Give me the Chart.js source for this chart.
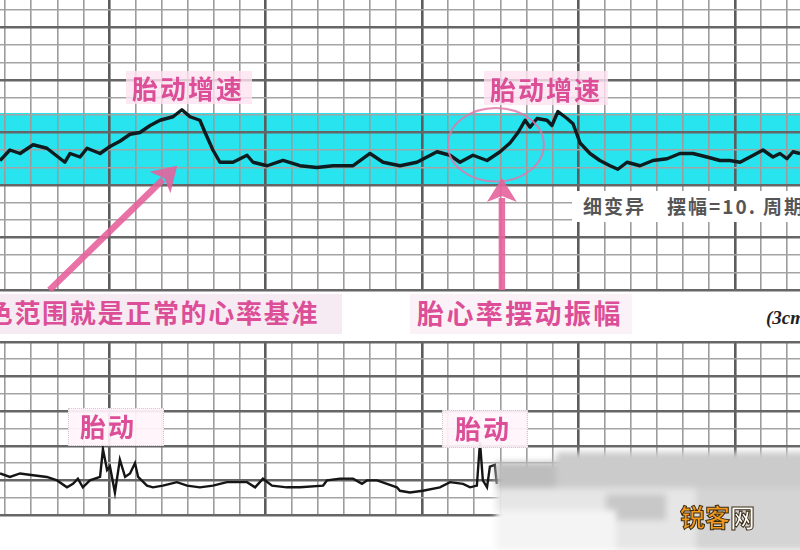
<!DOCTYPE html>
<html lang="zh">
<head>
<meta charset="utf-8">
<title>胎心监护图</title>
<script src="https://cdn.jsdelivr.net/npm/chart.js@4.4.1/dist/chart.umd.min.js"></script>
<style>
  html, body { margin: 0; padding: 0; background: #fff; }
  #stage {
    position: relative; width: 800px; height: 550px; overflow: hidden;
    background: #fff; font-family: "Noto Sans CJK SC", "Noto Sans", sans-serif;
  }
  canvas { position: absolute; left: 0; }
  #fhr { top: 0; }
  #toco { top: 340px; }
  .tag {
    position: absolute; color: #dc4f98; font-weight: 700;
    white-space: nowrap; line-height: 1;
  }
  .box { position: absolute; }
</style>
</head>
<body>
<div id="stage">
  <canvas id="fhr" width="800" height="293"></canvas>
  <canvas id="toco" width="800" height="178"></canvas>

  <!-- label backgrounds -->
  <div class="box" style="left:126px;top:71px;width:126px;height:33px;background:rgba(252,226,240,0.8)"></div>
  <div class="box" style="left:484px;top:71px;width:124px;height:34px;background:rgba(252,226,240,0.8)"></div>
  <div class="box" style="left:0;top:294px;width:342px;height:40px;background:#f7ebf3"></div>
  <div class="box" style="left:410px;top:294px;width:222px;height:40px;background:#fbf2f7"></div>
  <div class="box" style="left:68px;top:408px;width:94px;height:36px;background:rgba(255,244,250,0.92);border:1px dotted #ccc"></div>
  <div class="box" style="left:442px;top:410px;width:84px;height:36px;background:rgba(255,244,250,0.92);border:1px dotted #ccc"></div>
  <div class="box" style="left:572px;top:191px;width:228px;height:31px;background:#fff"></div>

  <!-- blurred watermark area -->
  <div class="box" style="left:496px;top:448px;width:320px;height:110px;filter:blur(3px)">
    <div class="box" style="left:0;top:14px;width:70px;height:30px;background:#bdbdbd"></div>
    <div class="box" style="left:60px;top:4px;width:260px;height:36px;background:#cbcbcb"></div>
    <div class="box" style="left:0;top:40px;width:320px;height:62px;background:#e6e6e6"></div>
    <div class="box" style="left:110px;top:46px;width:60px;height:26px;background:#c8c8c8"></div>
    <div class="box" style="left:200px;top:40px;width:110px;height:62px;background:#d4d4d4"></div>
    <div class="box" style="left:0;top:62px;width:120px;height:40px;background:#f4f4f4"></div>
  </div>

  <div class="tag" style="left:132px;top:75px;font-size:26px;letter-spacing:2px">胎动增速</div>
  <div class="tag" style="left:490px;top:76px;font-size:26px;letter-spacing:2px">胎动增速</div>
  <div class="tag" style="left:-41px;top:299px;font-size:26px;letter-spacing:1.7px">蓝色范围就是正常的心率基准</div>
  <div class="tag" style="left:417px;top:299px;font-size:27px;letter-spacing:2.4px">胎心率摆动振幅</div>
  <div class="tag" style="left:80px;top:413px;font-size:26px;letter-spacing:2px">胎动</div>
  <div class="tag" style="left:455px;top:415px;font-size:26px;letter-spacing:2px">胎动</div>

  <div class="tag" style="left:583px;top:196px;font-size:19px;letter-spacing:2px;color:#555">细变异　摆幅=10. 周期</div>
  <div class="tag" style="left:766px;top:308px;font-size:19px;color:#222;font-family:'Liberation Serif',serif;font-style:italic">(3cm/min)</div>

  <div class="tag" style="left:680px;top:504px;font-size:25px;letter-spacing:0;-webkit-text-stroke:1px #3a2a10">
    <span style="color:#f39a1e">锐客</span><span style="color:#fff">网</span>
  </div>
</div>

<script>
// fetal heart rate trace: time (s) and beats per minute
const FHR_SEC = [18, 21.8, 25.7, 30.7, 36, 40.3, 42.9, 44.9, 48.7, 51.4, 56.4, 60.2, 64, 67.9, 71.7, 75.6,
  79.4, 84.4, 87.8, 90.9, 94.7, 96.7, 99.7, 102.4, 107.4, 112.8, 115.1, 120.5, 126.6, 133.1, 139.6,
  145.8, 153.5, 160, 165, 171.5, 178, 185.7, 190.7, 194.5, 199.5, 204.9, 209.9, 213.7, 216.8, 219.5,
  221.4, 224.1, 227.9, 229.8, 232.1, 235.6, 237.9, 240.6, 244.4, 248.2, 252.1, 255.1, 258.6, 263.6,
  268.6, 274, 278.9, 283.9, 289.3, 294.3, 298.1, 302, 305.8, 310.8, 314.6, 317.3, 320, 322.3, 325];
const FHR_BPM = [134, 140, 138, 143, 141, 136, 133, 138, 136, 141, 138, 142, 145, 149, 150, 154,
  157, 159, 163, 159, 157, 150, 140, 133, 133, 137, 133, 131, 134, 131, 130,
  131, 131, 138, 133, 131, 133, 139, 137, 133, 137, 134, 139, 144, 150, 157,
  153, 158, 157, 154, 162, 158, 155, 144, 138, 134, 131, 129, 133, 131,
  134, 135, 138, 138, 136, 134, 134, 133, 136, 140, 136, 138, 135, 139, 138];

// contraction / movement trace: time (s) and pressure units
const TOCO_SEC = [18, 21.8, 25.7, 30.7, 36, 39.9, 43.7, 46, 47.9, 49.8, 52.5, 56.4, 57.5, 59.1, 60.2, 62.1,
  64, 66, 67.9, 69.8, 71, 74.4, 76.7, 80.5, 85.9, 89.8, 94.7, 99.7, 105.1, 112.8, 115.9, 118.9, 122.4,
  128.1, 133.1, 142, 143.5, 148.5, 153.5, 156.9, 158.8, 162.7, 166.5, 170.3, 171.5, 175.3, 180.3,
  186.8, 190.7, 195.7, 198.4, 201, 202.2, 203.3, 204.9, 206, 207.9, 208.7];
const TOCO_VAL = [24, 22, 24, 23, 22, 20, 16, 18, 21, 16, 20, 22, 38, 26, 28, 13,
  32, 22, 24, 30, 22, 17, 16, 17, 19, 17, 16, 17, 19, 19, 16, 21, 17,
  16, 16, 17, 20, 21, 21, 18, 20, 20, 18, 16, 14, 13, 14,
  16, 19, 18, 16, 17, 42, 20, 16, 28, 29, 18];

// normal baseline band (bpm)
const BAND_LOW = 120;
const BAND_HIGH = 160;

// paper grid: 10 s per small cell, heavy line every minute
const TIME_TICKS = [];
for (let s = 20; s <= 320; s += 10) TIME_TICKS.push(s);
const FHR_TICKS = [];
for (let b = 60; b <= 220; b += 10) FHR_TICKS.push(b);
const TOCO_TICKS = [];
for (let v = 0; v <= 100; v += 10) TOCO_TICKS.push(v);

// annotation anchors in data units
const ARROWS = [
  { from: [37, 60], to: [86, 131] },
  { from: [210.6, 60], to: [210.6, 124] }
];
const RING = { x: 208.3, y: 143, rx: 18.4, ry: 21 };

const PINK = 'rgba(229, 98, 156, 0.9)';

function xAxis() {
  return {
    type: 'linear', min: 18, max: 325,
    afterBuildTicks: (axis) => { axis.ticks = TIME_TICKS.map(v => ({ value: v })); },
    ticks: { display: false },
    border: { display: false },
    grid: {
      drawTicks: false,
      color: (ctx) => (ctx.tick && ctx.tick.value % 60 === 0) ? '#5c5c5c' : '#9c9c9c',
      lineWidth: (ctx) => (ctx.tick && ctx.tick.value % 60 === 0) ? 2.6 : 1.6
    }
  };
}

const bandPlugin = {
  id: 'band',
  beforeDraw(chart) {
    const { ctx, chartArea, scales } = chart;
    const top = scales.y.getPixelForValue(BAND_HIGH) - 2;
    const bottom = scales.y.getPixelForValue(BAND_LOW);
    ctx.save();
    ctx.fillStyle = '#27e4ee';
    ctx.fillRect(chartArea.left, top, chartArea.right - chartArea.left, bottom - top);
    ctx.restore();
  }
};

const markPlugin = {
  id: 'marks',
  afterDatasetsDraw(chart) {
    const { ctx, scales } = chart;
    const px = v => scales.x.getPixelForValue(v);
    const py = v => scales.y.getPixelForValue(v);
    ctx.save();

    // ring round the second rise
    ctx.strokeStyle = 'rgba(226, 120, 170, 0.85)';
    ctx.lineWidth = 2;
    ctx.beginPath();
    ctx.ellipse(px(RING.x), py(RING.y),
      Math.abs(px(RING.x + RING.rx) - px(RING.x)),
      Math.abs(py(RING.y + RING.ry) - py(RING.y)), 0, 0, Math.PI * 2);
    ctx.stroke();

    // arrows
    ARROWS.forEach(a => {
      const x0 = px(a.from[0]), y0 = py(a.from[1]);
      const x1 = px(a.to[0]), y1 = py(a.to[1]);
      const ang = Math.atan2(y1 - y0, x1 - x0);
      const headLen = 24, headHalf = 15;
      const bx = x1 - Math.cos(ang) * headLen, by = y1 - Math.sin(ang) * headLen;
      ctx.strokeStyle = PINK;
      ctx.fillStyle = PINK;
      ctx.lineWidth = 6.5;
      ctx.lineCap = 'butt';
      ctx.beginPath();
      ctx.moveTo(x0, y0);
      ctx.lineTo(bx + Math.cos(ang) * 4, by + Math.sin(ang) * 4);
      ctx.stroke();
      ctx.beginPath();
      ctx.moveTo(x1, y1);
      ctx.lineTo(bx + Math.sin(ang) * headHalf, by - Math.cos(ang) * headHalf);
      ctx.lineTo(bx + Math.cos(ang) * 6, by + Math.sin(ang) * 6);
      ctx.lineTo(bx - Math.sin(ang) * headHalf, by + Math.cos(ang) * headHalf);
      ctx.closePath();
      ctx.fill();
    });
    ctx.restore();
  }
};

const common = {
  responsive: false,
  devicePixelRatio: 1,
  animation: false,
  events: [],
  plugins: { legend: { display: false }, tooltip: { enabled: false } },
  elements: { point: { radius: 0 }, line: { tension: 0 } }
};

new Chart(document.getElementById('fhr'), {
  type: 'line',
  data: {
    datasets: [{
      data: FHR_SEC.map((s, i) => ({ x: s, y: FHR_BPM[i] })),
      borderColor: '#0e1b1f',
      borderWidth: 3.4,
      borderJoinStyle: 'round'
    }]
  },
  options: {
    ...common,
    layout: { padding: { top: 0, bottom: 3, left: 0, right: 0 } },
    scales: {
      x: xAxis(),
      y: {
        min: 60, max: 225.7,
        afterBuildTicks: (axis) => { axis.ticks = FHR_TICKS.map(v => ({ value: v })); },
        ticks: { display: false },
        border: { display: false },
        grid: {
          drawTicks: false,
          color: (ctx) => (ctx.tick && ctx.tick.value % 30 === 0) ? '#666' : '#a4a4a4',
          lineWidth: (ctx) => (ctx.tick && ctx.tick.value % 30 === 0) ? 2.6 : 1.6
        }
      }
    }
  },
  plugins: [bandPlugin, markPlugin]
});

new Chart(document.getElementById('toco'), {
  type: 'line',
  data: {
    datasets: [{
      data: TOCO_SEC.map((s, i) => ({ x: s, y: TOCO_VAL[i] })),
      borderColor: '#151515',
      borderWidth: 2.4,
      borderJoinStyle: 'miter'
    }]
  },
  options: {
    ...common,
    layout: { padding: { top: 2, bottom: 3, left: 0, right: 0 } },
    scales: {
      x: xAxis(),
      y: {
        min: 0, max: 100,
        afterBuildTicks: (axis) => { axis.ticks = TOCO_TICKS.map(v => ({ value: v })); },
        ticks: { display: false },
        border: { display: false },
        grid: {
          drawTicks: false,
          color: (ctx) => (ctx.tick && ctx.tick.value % 20 === 0) ? '#666' : '#a4a4a4',
          lineWidth: (ctx) => (ctx.tick && ctx.tick.value % 20 === 0) ? 2.6 : 1.6
        }
      }
    }
  }
});
</script>
</body>
</html>
